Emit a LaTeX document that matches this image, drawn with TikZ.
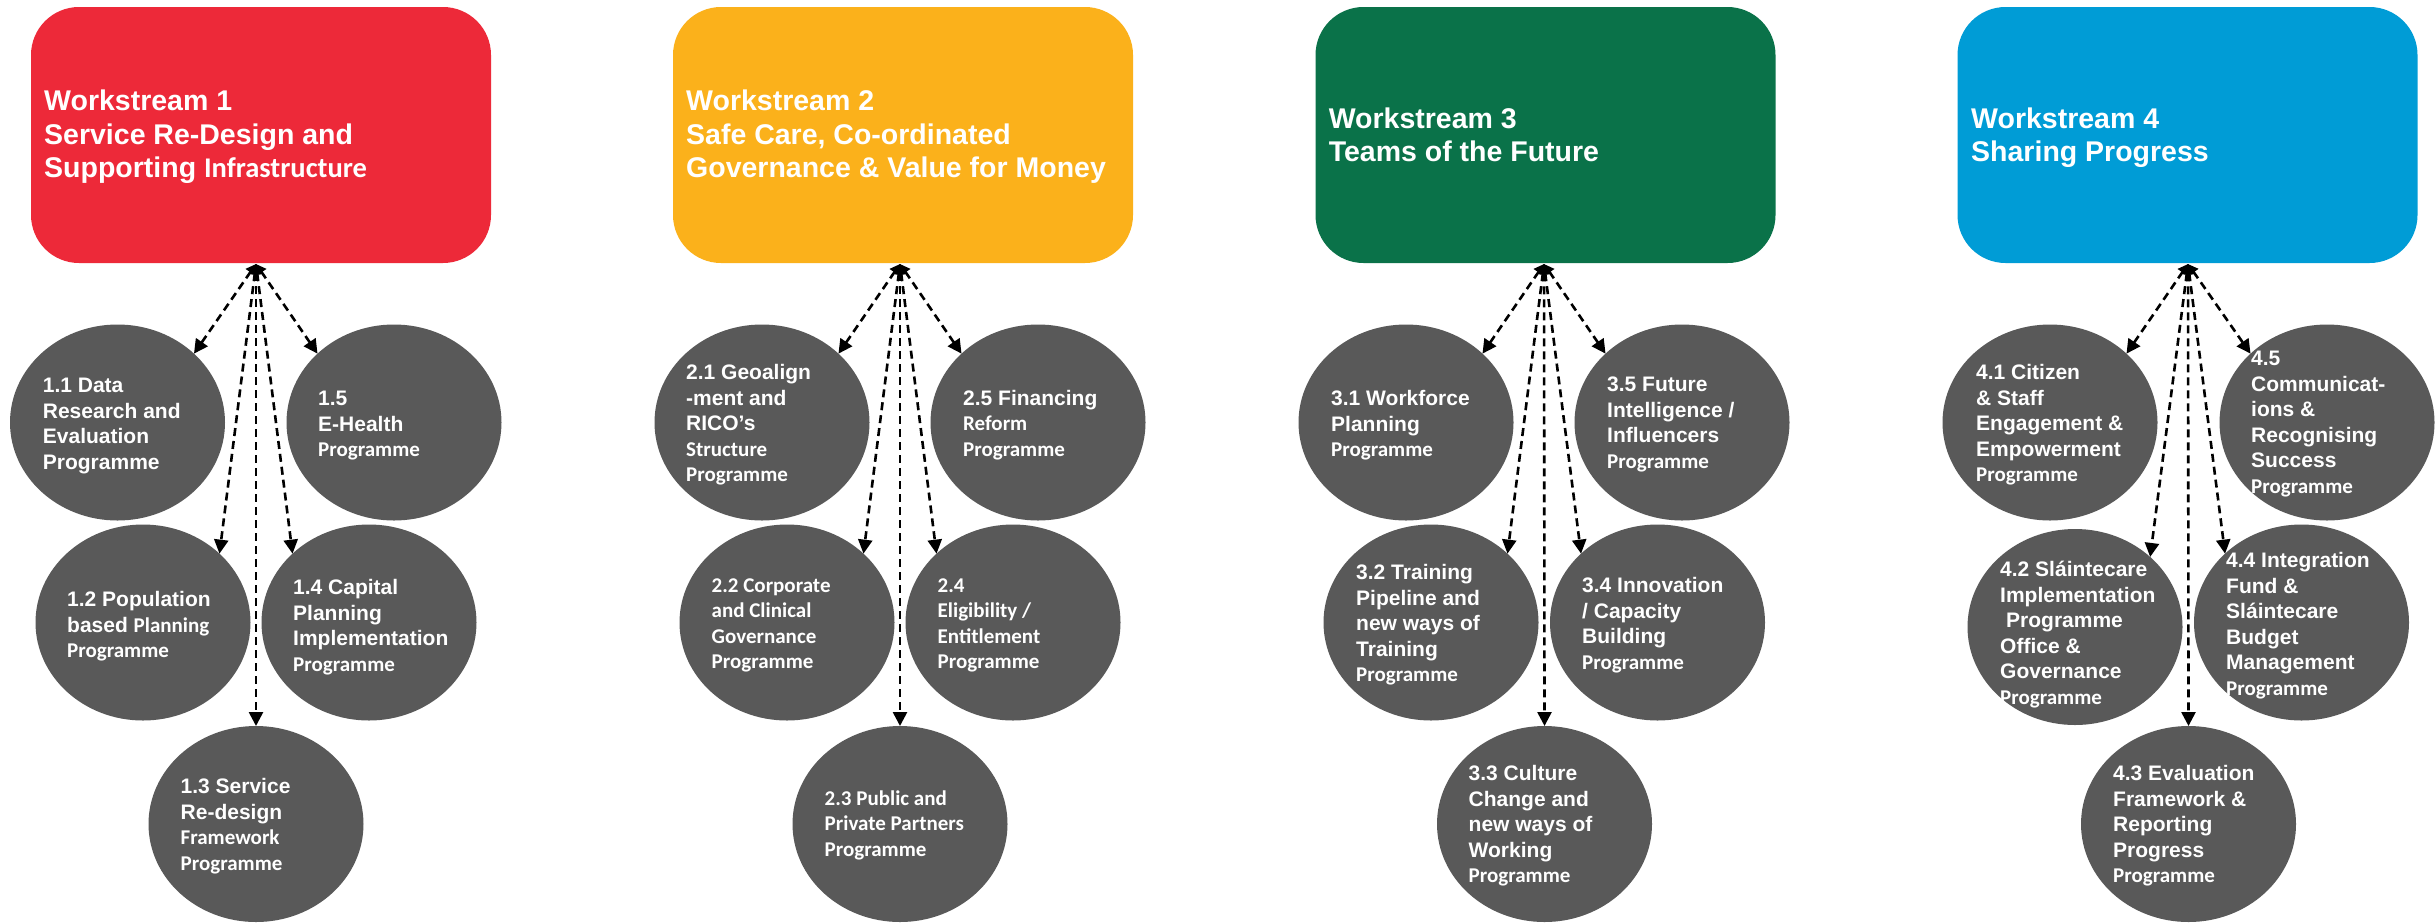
\documentclass[tikz,border=0pt]{standalone}
\usepackage{fontspec}
\setmainfont{Liberation Sans}
\newfontfamily\calf{Carlito}
\usetikzlibrary{shapes.geometric,arrows.meta}
\definecolor{wsred}{HTML}{ED2939}
\definecolor{wsyellow}{HTML}{FBB11B}
\definecolor{wsgreen}{HTML}{0A7249}
\definecolor{wsblue}{HTML}{009CD6}
\definecolor{ellgray}{HTML}{595959}
\newcommand{\ca}[1]{{\calf\bfseries #1}}
\newcommand{\lns}[1]{\begin{tabular}[t]{@{}l@{}}#1\end{tabular}}
\begin{document}
\begin{tikzpicture}[x=1pt,y=-1pt,
 wsbox/.style={rectangle, rounded corners=48pt, minimum width=460pt, minimum height=256pt, inner sep=0pt, outer sep=0pt},
 prog/.style={ellipse, fill=ellgray, minimum width=215pt, minimum height=196pt, inner sep=0pt, outer sep=0pt},
 ttl/.style={anchor=base west, inner sep=0pt, text=white, font=\bfseries\fontsize{28.5}{33.5}\selectfont},
 ptxt/.style={anchor=base west, inner sep=0pt, text=white, font=\bfseries\fontsize{21}{25.5}\selectfont},
 ctxt/.style={ptxt, font=\calf\bfseries\fontsize{21}{25.5}\selectfont},
 link/.style={line width=2.6pt, dash pattern=on 8pt off 5pt, {Triangle[length=10pt,width=11pt]}-{Triangle[length=14pt,width=14pt]}}
]
\path[use as bounding box, fill=white] (0,0) rectangle (2435,922);

% ---------- Workstream 1 ----------
\node[wsbox, fill=wsred] (w1) at (261,135) {};
\node[ttl] (w1t) at (44,110.5) {\lns{Workstream 1\\Service Re-Design and\\Supporting \ca{Infrastructure}}};
\node[prog] (e11) at (117.5,422.5) {};
\node[prog] (e15) at (394,422.5) {};
\node[prog] (e12) at (143,622.5) {};
\node[prog] (e14) at (369,622.5) {};
\node[prog] (e13) at (256,824) {};
\coordinate (o1) at (256,264);
\draw[link] (o1) -- (e11.42);
\draw[link] (o1) -- (e15.138);
\draw[link] (o1) -- (e12.42);
\draw[link] (o1) -- (e14.138);
\draw[link] (o1) -- (e13.north);
\node[ptxt] (t11) at (42.7,392.5) {\lns{1.1 Data\\Research and\\Evaluation\\Programme}};
\node[ptxt] (t15) at (318,405.5) {\lns{1.5\\E-Health\\\ca{Programme}}};
\node[ptxt] (t12) at (67,606.5) {\lns{1.2 Population\\based \ca{Planning}\\\ca{Programme}}};
\node[ptxt] (t14) at (293,594.5) {\lns{1.4 Capital\\Planning\\Implementation\\\ca{Programme}}};
\node[ptxt] (t13) at (180.5,793.5) {\lns{1.3 Service\\Re-design\\\ca{Framework}\\\ca{Programme}}};

% ---------- Workstream 2 ----------
\node[wsbox, fill=wsyellow] (w2) at (903,135) {};
\node[ttl] (w2t) at (686,110.5) {\lns{Workstream 2\\Safe Care, Co-ordinated\\Governance \& Value for Money}};
\node[prog] (e21) at (762,422.5) {};
\node[prog] (e25) at (1038,422.5) {};
\node[prog] (e22) at (787,622.5) {};
\node[prog] (e24) at (1013,622.5) {};
\node[prog] (e23) at (900,824) {};
\coordinate (o2) at (900,264);
\draw[link] (o2) -- (e21.42);
\draw[link] (o2) -- (e25.138);
\draw[link] (o2) -- (e22.42);
\draw[link] (o2) -- (e24.138);
\draw[link] (o2) -- (e23.north);
\node[ptxt] (t21) at (686,379.5) {\lns{2.1 Geoalign\\-ment and\\RICO’s\\\ca{Structure}\\\ca{Programme}}};
\node[ptxt] (t25) at (963,405) {\lns{2.5 Financing\\\ca{Reform}\\\ca{Programme}}};
\node[ctxt] (t22) at (711.5,592) {\lns{2.2 Corporate\\and Clinical\\Governance\\Programme}};
\node[ctxt] (t24) at (937.5,592) {\lns{2.4\\Eligibility /\\Entitlement\\Programme}};
\node[ctxt] (t23) at (824.5,805) {\lns{2.3 Public and\\Private Partners\\Programme}};

% ---------- Workstream 3 ----------
\node[wsbox, fill=wsgreen] (w3) at (1545.5,135) {};
\node[ttl] (w3t) at (1328.6,128) {\lns{Workstream 3\\Teams of the Future}};
\node[prog] (e31) at (1406,422.5) {};
\node[prog] (e35) at (1682,422.5) {};
\node[prog] (e32) at (1431,622.5) {};
\node[prog] (e34) at (1657.5,622.5) {};
\node[prog] (e33) at (1544.5,824) {};
\coordinate (o3) at (1544,264);
\draw[link] (o3) -- (e31.42);
\draw[link] (o3) -- (e35.138);
\draw[link] (o3) -- (e32.42);
\draw[link] (o3) -- (e34.138);
\draw[link] (o3) -- (e33.north);
\node[ptxt] (t31) at (1331,405.5) {\lns{3.1 Workforce\\Planning\\\ca{Programme}}};
\node[ptxt] (t35) at (1607,391.5) {\lns{3.5 Future\\Intelligence /\\Influencers\\\ca{Programme}}};
\node[ptxt] (t32) at (1356,579.5) {\lns{3.2 Training\\Pipeline and\\new ways of\\Training\\\ca{Programme}}};
\node[ptxt] (t34) at (1582,592.5) {\lns{3.4 Innovation\\/ Capacity\\Building\\\ca{Programme}}};
\node[ptxt] (t33) at (1468.5,780.5) {\lns{3.3 Culture\\Change and\\new ways of\\Working\\\ca{Programme}}};

% ---------- Workstream 4 ----------
\node[wsbox, fill=wsblue] (w4) at (2187.5,135) {};
\node[ttl] (w4t) at (1971,128) {\lns{Workstream 4\\Sharing Progress}};
\node[prog] (e41) at (2050,422.5) {};
\node[prog] (e45) at (2327,422.5) {};
\node[prog] (e42) at (2075,627) {};
\node[prog] (e44) at (2301.5,622.5) {};
\node[prog] (e43) at (2188.5,824) {};
\coordinate (o4) at (2188,264);
\draw[link] (o4) -- (e41.42);
\draw[link] (o4) -- (e45.138);
\draw[link] (o4) -- (e42.43);
\draw[link] (o4) -- (e44.138);
\draw[link] (o4) -- (e43.north);
\node[ptxt] (t41) at (1976,379.5) {\lns{4.1 Citizen\\\& Staff\\Engagement \&\\Empowerment\\\ca{Programme}}};
\node[ptxt] (t45) at (2251,365.5) {\lns{4.5\\Communicat-\\ions \&\\Recognising\\Success\\\ca{Programme}}};
\node[ptxt] (t42) at (2000,576.5) {\lns{4.2 Sláintecare\\Implementation\\\hspace{6pt}Programme\\Office \&\\Governance\\\ca{Programme}}};
\node[ptxt] (t44) at (2226,567.5) {\lns{4.4 Integration\\Fund \&\\Sláintecare\\Budget\\Management\\\ca{Programme}}};
\node[ptxt] (t43) at (2113,780.5) {\lns{4.3 Evaluation\\Framework \&\\Reporting\\Progress\\\ca{Programme}}};
\end{tikzpicture}
\end{document}
